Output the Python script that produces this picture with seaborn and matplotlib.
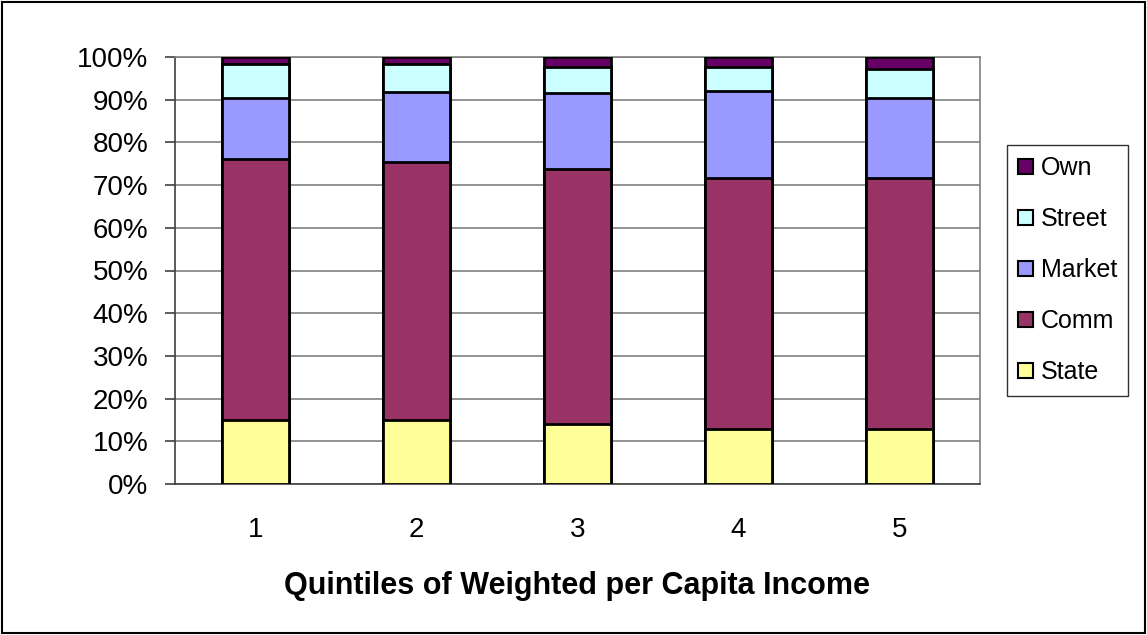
import numpy as np
import pandas as pd
import matplotlib
matplotlib.use("Agg")
import matplotlib.pyplot as plt
import seaborn as sns
from matplotlib.patches import Rectangle, Patch

# datos (porcentaje de cada fuente por quintil)
quintiles = ["1", "2", "3", "4", "5"]
state = [15.0, 15.0, 14.0, 12.8, 12.8]
comm = [61.0, 60.4, 59.7, 58.8, 58.8]
market = [14.5, 16.3, 17.9, 20.5, 18.9]
street = [7.8, 6.6, 6.1, 5.6, 6.6]
own = [1.7, 1.7, 2.3, 2.3, 2.9]

series = ["State", "Comm", "Market", "Street", "Own"]
colores = {"State": "#FFFF99", "Comm": "#993366", "Market": "#9999FF",
           "Street": "#CCFFFF", "Own": "#660066"}

df = pd.DataFrame({"Quintil": quintiles, "State": state, "Comm": comm,
                   "Market": market, "Street": street, "Own": own})
# acumulados para apilar
cum = df[series].cumsum(axis=1)
cum["Quintil"] = df["Quintil"]

sns.set_style("white")
plt.rcParams["font.family"] = ["Liberation Sans", "DejaVu Sans"]
plt.rcParams["text.color"] = "black"
plt.rcParams["axes.labelcolor"] = "black"
plt.rcParams["xtick.color"] = "black"
plt.rcParams["ytick.color"] = "black"

fig = plt.figure(figsize=(11.47, 6.35), dpi=100)
ax = fig.add_axes([175 / 1147, 151 / 635, 805 / 1147, 427 / 635])

# de arriba hacia abajo, cada barra tapa la anterior
for s in reversed(series):
    sns.barplot(data=cum, x="Quintil", y=s, color=colores[s], width=0.42,
                edgecolor="black", linewidth=2, saturation=1, ax=ax, zorder=3)

ax.set_ylim(0, 100)
ax.set_xlim(-0.5, 4.5)
ax.set_yticks(np.arange(0, 101, 10))
ax.set_yticklabels([f"{v}%" for v in range(0, 101, 10)], fontsize=20)
ax.yaxis.grid(True, color="#808080", linewidth=1.2, zorder=0)
ax.set_axisbelow(True)

ax.set_xticks(range(5))
ax.set_xticklabels(quintiles, fontsize=20)
ax.set_xticks(np.arange(-0.5, 5, 1), minor=True)
ax.tick_params(axis="x", which="major", length=0, pad=24)
ax.tick_params(axis="x", which="minor", length=7, width=1.2, color="#404040", direction="out")
ax.tick_params(axis="y", length=7, width=1.2, color="#404040", direction="out", left=True, pad=12)
ax.set_ylabel("")
ax.set_xlabel("Quintiles of Weighted per Capita Income", fontsize=22,
              fontweight="bold", labelpad=20)

for lado in ["top", "right"]:
    ax.spines[lado].set_color("#808080")
    ax.spines[lado].set_linewidth(1.2)
for lado in ["left", "bottom"]:
    ax.spines[lado].set_color("#404040")
    ax.spines[lado].set_linewidth(1.2)

handles = [Patch(facecolor=colores[s], edgecolor="black", linewidth=1.5, label=s)
           for s in reversed(series)]
leg = fig.legend(handles=handles, loc="upper left", bbox_to_anchor=(1007 / 1147, 1 - 145 / 635),
                 fontsize=18, frameon=True, fancybox=False, edgecolor="black",
                 handlelength=0.6, handleheight=0.6, handletextpad=0.3,
                 labelspacing=1.08, borderpad=0.45, borderaxespad=0)
leg.get_frame().set_linewidth(1)

# marco exterior
fig.patches.append(Rectangle((0.002, 0.003), 0.996, 0.994, transform=fig.transFigure,
                             fill=False, edgecolor="black", linewidth=1.5))

fig.savefig("out.png", dpi=100)
